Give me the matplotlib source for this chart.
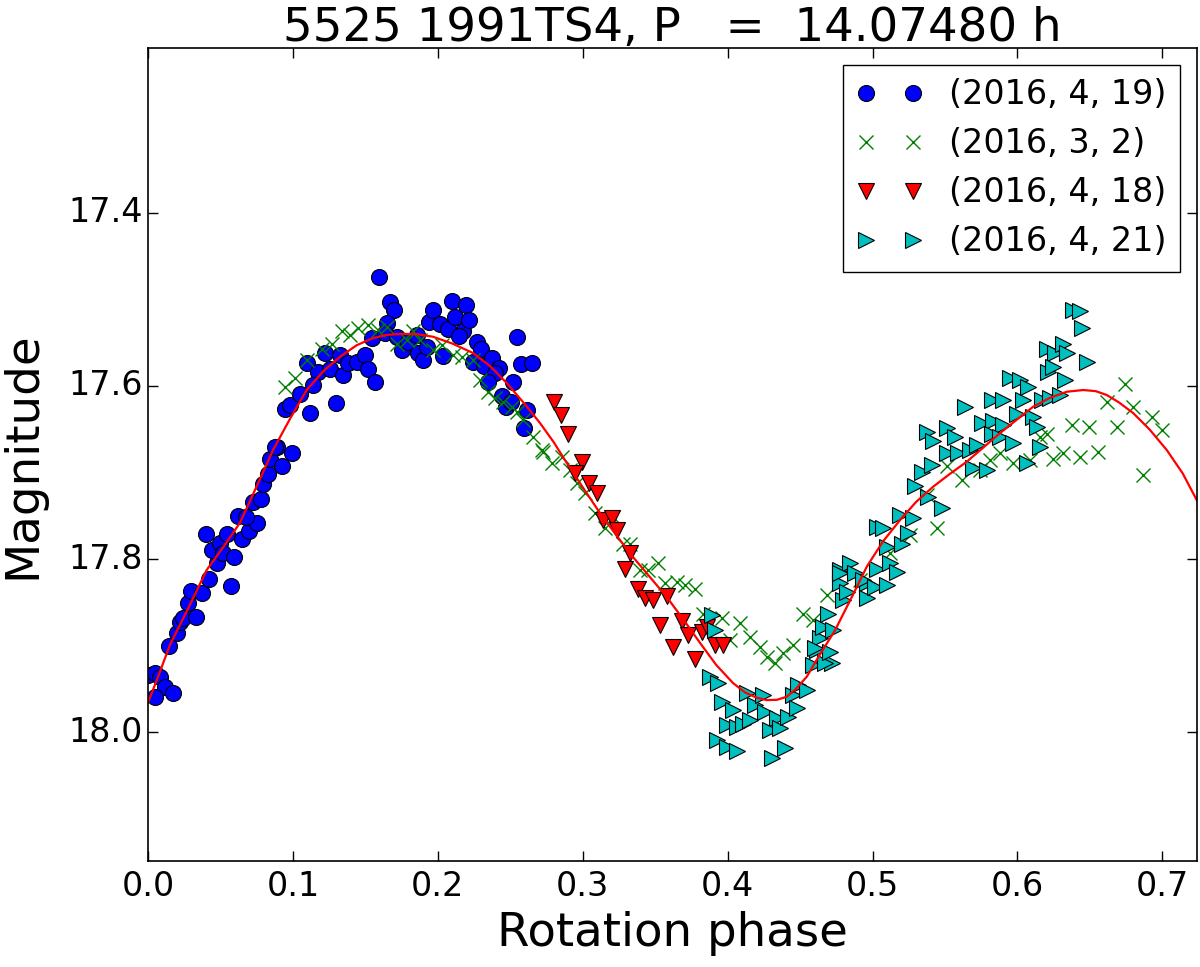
import matplotlib
matplotlib.use("Agg")
import matplotlib.pyplot as plt
from matplotlib.ticker import FormatStrFormatter

plt.style.use("classic")

TITLE = "5525 1991TS4, P   =  14.07480 h"

# (2016, 4, 19)
blue_x = [0.000, 0.005, 0.008, 0.012, 0.017, 0.005, 0.0147, 0.0198, 0.022, 0.0244,
          0.033, 0.0274, 0.0297, 0.037, 0.0423, 0.057, 0.0474, 0.044, 0.0497, 0.040,
          0.0547, 0.052, 0.0596, 0.0647, 0.070, 0.075, 0.0619, 0.0676, 0.0722, 0.0778,
          0.0796, 0.0826, 0.0842, 0.0893, 0.0922, 0.0996, 0.0945, 0.098, 0.1118, 0.1297,
          0.1597, 0.167, 0.1698, 0.1647, 0.1095, 0.1175, 0.1222, 0.1256, 0.1325, 0.1348,
          0.1383, 0.144, 0.1498, 0.152, 0.1567, 0.1141, 0.1049, 0.1544, 0.1636, 0.1716,
          0.1751, 0.1797, 0.1854, 0.1865, 0.1896, 0.1923, 0.1942, 0.1969, 0.2015, 0.2072,
          0.2096, 0.2119, 0.2172, 0.2195, 0.2217, 0.2146, 0.2038, 0.2268, 0.2295, 0.2245,
          0.2319, 0.2372, 0.2424, 0.2395, 0.2348, 0.2521, 0.2544, 0.2572, 0.2648, 0.2441,
          0.2471, 0.2503, 0.2613, 0.2595, 0.0876]
blue_y = [17.934, 17.932, 17.936, 17.948, 17.955, 17.959, 17.900, 17.885, 17.873, 17.868,
          17.867, 17.851, 17.837, 17.839, 17.823, 17.831, 17.805, 17.789, 17.781, 17.771,
          17.771, 17.793, 17.798, 17.777, 17.768, 17.758, 17.750, 17.751, 17.734, 17.731,
          17.713, 17.702, 17.684, 17.671, 17.692, 17.678, 17.627, 17.622, 17.631, 17.620,
          17.474, 17.503, 17.512, 17.527, 17.574, 17.584, 17.562, 17.580, 17.564, 17.587,
          17.574, 17.572, 17.564, 17.581, 17.595, 17.599, 17.609, 17.545, 17.539, 17.543,
          17.559, 17.549, 17.541, 17.562, 17.570, 17.555, 17.526, 17.512, 17.528, 17.534,
          17.502, 17.520, 17.537, 17.507, 17.524, 17.542, 17.565, 17.549, 17.557, 17.572,
          17.577, 17.568, 17.579, 17.585, 17.595, 17.595, 17.544, 17.575, 17.573, 17.612,
          17.624, 17.618, 17.628, 17.649, 17.670]

# (2016, 3, 2)
green_x = [0.0945, 0.1015, 0.1095, 0.1199, 0.1268, 0.1337, 0.1394, 0.1451, 0.1520, 0.1589,
           0.1647, 0.1716, 0.1785, 0.1831, 0.1877, 0.1969, 0.2027, 0.2107, 0.2165, 0.2245,
           0.2291, 0.2349, 0.2395, 0.2452, 0.2510, 0.2544, 0.2590, 0.2659, 0.2717, 0.2728,
           0.2786, 0.2855, 0.2912, 0.2959, 0.3016, 0.3085, 0.3154, 0.3211, 0.3280, 0.3327,
           0.3395, 0.3453, 0.3522, 0.3568, 0.3649, 0.3706, 0.3775, 0.3832, 0.3959, 0.4086,
           0.4017, 0.4155, 0.4224, 0.4270, 0.4327, 0.4385, 0.4454, 0.4523, 0.4684, 0.4591,
           0.4914, 0.5121, 0.5259, 0.5443, 0.5374, 0.5512, 0.5615, 0.5742, 0.5811, 0.5880,
           0.5972, 0.6087, 0.6156, 0.6202, 0.6248, 0.6317, 0.6375, 0.6432, 0.6490, 0.6685,
           0.6616, 0.6743, 0.6800, 0.6927, 0.6996, 0.6869, 0.6558]
green_y = [17.601, 17.591, 17.570, 17.557, 17.551, 17.537, 17.541, 17.533, 17.530, 17.535,
           17.532, 17.551, 17.547, 17.537, 17.547, 17.559, 17.553, 17.564, 17.566, 17.570,
           17.593, 17.607, 17.614, 17.618, 17.624, 17.630, 17.639, 17.659, 17.674, 17.676,
           17.689, 17.682, 17.697, 17.712, 17.724, 17.747, 17.764, 17.751, 17.782, 17.782,
           17.813, 17.813, 17.805, 17.828, 17.826, 17.830, 17.834, 17.863, 17.868, 17.874,
           17.893, 17.890, 17.901, 17.913, 17.920, 17.909, 17.899, 17.863, 17.841, 17.870,
           17.824, 17.793, 17.772, 17.764, 17.726, 17.693, 17.709, 17.697, 17.686, 17.678,
           17.689, 17.686, 17.659, 17.655, 17.684, 17.678, 17.645, 17.682, 17.647, 17.647,
           17.618, 17.598, 17.624, 17.636, 17.651, 17.703, 17.676]

# (2016, 4, 18)
red_x = [0.2802, 0.2850, 0.2901, 0.2993, 0.2947, 0.3046, 0.3097, 0.3143, 0.3200, 0.3239,
         0.3326, 0.3292, 0.3384, 0.3430, 0.3487, 0.3580, 0.3533, 0.3683, 0.3729, 0.3625,
         0.3775, 0.3821, 0.3856, 0.3913, 0.3970]
red_y = [17.618, 17.634, 17.655, 17.688, 17.701, 17.712, 17.724, 17.755, 17.753, 17.766,
         17.793, 17.811, 17.834, 17.845, 17.847, 17.843, 17.876, 17.872, 17.888, 17.901,
         17.915, 17.884, 17.878, 17.899, 17.899]

# (2016, 4, 21)
cyan_x = [0.3890, 0.3913, 0.3878, 0.3936, 0.3959, 0.4039, 0.3994, 0.4063, 0.4109, 0.4155,
          0.3925, 0.3994, 0.4063, 0.4132, 0.4189, 0.4247, 0.4258, 0.4339, 0.4293, 0.4362,
          0.4396, 0.4304, 0.4419, 0.4454, 0.4477, 0.4488, 0.4546, 0.4591, 0.4615, 0.4638,
          0.4661, 0.4695, 0.4718, 0.4730, 0.4776, 0.4845, 0.4960, 0.5029, 0.4672, 0.4603,
          0.4707, 0.4799, 0.4776, 0.4822, 0.4776, 0.4879, 0.4937, 0.4960, 0.5017, 0.5098,
          0.5029, 0.5121, 0.5167, 0.5075, 0.5098, 0.5201, 0.5247, 0.5190, 0.5282, 0.5293,
          0.5339, 0.5409, 0.5385, 0.5477, 0.5374, 0.5420, 0.5512, 0.5569, 0.5512, 0.5592,
          0.5673, 0.5719, 0.5696, 0.5788, 0.5638, 0.5754, 0.5823, 0.5903, 0.5834, 0.5903,
          0.5823, 0.5880, 0.5972, 0.5995, 0.6041, 0.5949, 0.6018, 0.6075, 0.6110, 0.6133,
          0.6064, 0.6156, 0.6168, 0.6225, 0.6294, 0.6213, 0.6202, 0.6259, 0.6248, 0.6317,
          0.6340, 0.6329, 0.6386, 0.6432, 0.6444, 0.6478]
cyan_y = [17.865, 17.882, 17.936, 17.943, 17.965, 17.974, 17.992, 17.994, 17.990, 17.986,
          18.009, 18.017, 18.022, 17.955, 17.968, 17.957, 17.976, 17.984, 17.997, 17.995,
          18.018, 18.030, 17.982, 17.957, 17.972, 17.945, 17.951, 17.922, 17.905, 17.891,
          17.878, 17.863, 17.920, 17.882, 17.813, 17.805, 17.828, 17.763, 17.920, 17.903,
          17.907, 17.847, 17.828, 17.838, 17.816, 17.816, 17.824, 17.845, 17.832, 17.830,
          17.811, 17.805, 17.815, 17.764, 17.786, 17.782, 17.770, 17.749, 17.753, 17.716,
          17.699, 17.691, 17.728, 17.741, 17.653, 17.664, 17.649, 17.659, 17.678, 17.678,
          17.674, 17.668, 17.695, 17.697, 17.624, 17.643, 17.616, 17.616, 17.641, 17.645,
          17.655, 17.659, 17.666, 17.632, 17.616, 17.591, 17.593, 17.601, 17.636, 17.647,
          17.689, 17.670, 17.616, 17.614, 17.610, 17.584, 17.557, 17.562, 17.578, 17.551,
          17.562, 17.593, 17.512, 17.513, 17.533, 17.572]

# fitted light curve
fit_x = [0.0, 0.0076, 0.0152, 0.0280, 0.0405, 0.0520, 0.0635, 0.0750, 0.0863, 0.0980,
         0.1095, 0.1210, 0.1325, 0.1440, 0.1553, 0.1650, 0.1739, 0.1850, 0.1967, 0.2100,
         0.2243, 0.2360, 0.2476, 0.2590, 0.2705, 0.2800, 0.2890, 0.3000, 0.3119, 0.3230,
         0.3347, 0.3460, 0.3580, 0.3700, 0.3810, 0.3920, 0.4037, 0.4120, 0.4200, 0.4270,
         0.4340, 0.4408, 0.4470, 0.4546, 0.4630, 0.4741, 0.4850, 0.4960, 0.5070, 0.5190,
         0.5300, 0.5418, 0.5530, 0.5650, 0.5765, 0.5880, 0.5995, 0.6108, 0.6220, 0.6340,
         0.6453, 0.6540, 0.6616, 0.6700, 0.6798, 0.6910, 0.7030, 0.7140, 0.7237]
fit_y = [17.966, 17.933, 17.899, 17.856, 17.8126, 17.786, 17.758, 17.716, 17.674, 17.638,
         17.6047, 17.583, 17.5663, 17.553, 17.5447, 17.541, 17.540, 17.540, 17.5432, 17.551,
         17.562, 17.577, 17.5967, 17.619, 17.6428, 17.665, 17.689, 17.717, 17.7468, 17.772,
         17.7976, 17.820, 17.8438, 17.871, 17.8969, 17.922, 17.9431, 17.954, 17.960, 17.9628,
         17.9625, 17.9589, 17.950, 17.9358, 17.912, 17.8822, 17.846, 17.8088, 17.780, 17.7548,
         17.734, 17.7164, 17.702, 17.6875, 17.671, 17.6544, 17.639, 17.624, 17.614, 17.6067,
         17.6047, 17.606, 17.6105, 17.619, 17.6313, 17.650, 17.674, 17.701, 17.7318]

series_labels = ["(2016, 4, 19)", "(2016, 3, 2)", "(2016, 4, 18)", "(2016, 4, 21)"]

fig = plt.figure(figsize=(12, 9.67), dpi=100, facecolor="white")
ax = fig.add_axes([0.1233, 0.1093, 0.874, 0.8408])

ms = 11.5
ax.plot(blue_x, blue_y, "bo", ms=ms, mec="k", mew=0.8, label=series_labels[0])
ax.plot(green_x, green_y, "gx", ms=ms - 1, mew=1.0, label=series_labels[1])
ax.plot(red_x, red_y, "rv", ms=ms, mec="k", mew=0.8, label=series_labels[2])
ax.plot(cyan_x, cyan_y, "c>", ms=ms, mec="k", mew=0.8, label=series_labels[3])
ax.plot(fit_x, fit_y, "r-", lw=1.6)

ax.set_xlim(0.0, 0.7237)
ax.set_ylim(18.149, 17.21)
ax.set_xticks([0.0, 0.1, 0.2, 0.3, 0.4, 0.5, 0.6, 0.7])
ax.set_yticks([17.4, 17.6, 17.8, 18.0])
ax.xaxis.set_major_formatter(FormatStrFormatter("%.1f"))
ax.yaxis.set_major_formatter(FormatStrFormatter("%.1f"))
ax.tick_params(which="major", direction="in", length=7, width=1, labelsize=24)
ax.tick_params(axis="x", pad=6)
ax.tick_params(axis="y", pad=4)
ax.minorticks_off()
for sp in ax.spines.values():
    sp.set_linewidth(1.2)

ax.set_xlabel("Rotation phase", fontsize=33.6, labelpad=6)
ax.set_ylabel("Magnitude", fontsize=33.6, labelpad=16)
ax.set_title(TITLE, fontsize=33.6)

ax.legend(loc="upper right", numpoints=2, fontsize=24, frameon=True, fancybox=False,
          borderpad=0.4, labelspacing=0.48, handlelength=2.0, handletextpad=0.8,
          borderaxespad=0.5)

fig.savefig("out.png", dpi=100, facecolor="white")
